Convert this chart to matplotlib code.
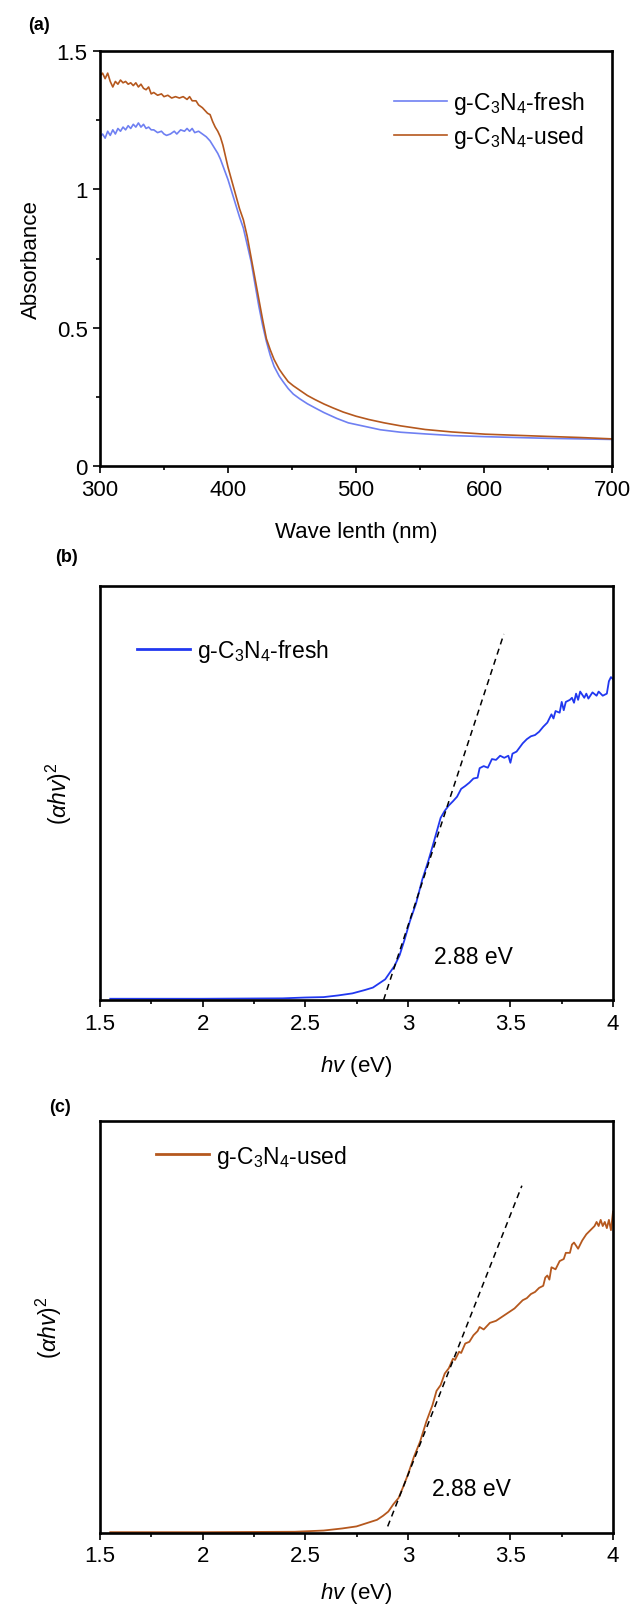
#!/usr/bin/env python3
"""UV-vis absorbance and Tauc plots of fresh and used g-C3N4."""

import matplotlib
matplotlib.use('Agg')
import matplotlib.pyplot as plt
from matplotlib.ticker import MultipleLocator, FormatStrFormatter, NullLocator

plt.rcParams['font.family'] = ['Liberation Sans', 'DejaVu Sans']
plt.rcParams['mathtext.fontset'] = 'custom'
plt.rcParams['mathtext.rm'] = 'Liberation Sans'
plt.rcParams['mathtext.it'] = 'Liberation Sans:italic'

# ---- panel (a): absorbance vs wavelength ----
wl_used = [300, 302, 304, 306, 308, 310, 312, 314, 316, 318, 320, 322, 324, 326, 328, 330,
           332, 334, 336, 338, 340, 342, 345, 348, 350, 353, 356, 359, 362, 365, 368, 370,
           372, 375, 377, 380, 382, 384, 386, 388, 390, 392, 394, 396, 398, 400, 403, 406,
           409, 412, 415, 418, 421, 424, 427, 430, 433, 436, 440, 443, 447, 451, 456, 462,
           468, 475, 482, 490, 500, 510, 522, 535, 554, 575, 601, 625, 649, 675, 690, 700]
abs_used = [1.41, 1.42, 1.40, 1.42, 1.39, 1.37, 1.39, 1.38, 1.395, 1.385, 1.39, 1.38, 1.385,
            1.375, 1.385, 1.37, 1.38, 1.365, 1.36, 1.37, 1.345, 1.35, 1.34, 1.345, 1.335, 1.34,
            1.33, 1.335, 1.33, 1.335, 1.325, 1.335, 1.32, 1.32, 1.305, 1.295, 1.285, 1.275,
            1.27, 1.245, 1.225, 1.21, 1.19, 1.16, 1.12, 1.08, 1.03, 0.98, 0.93, 0.89, 0.83,
            0.755, 0.68, 0.605, 0.53, 0.46, 0.42, 0.385, 0.35, 0.33, 0.305, 0.29, 0.274, 0.255,
            0.24, 0.224, 0.21, 0.195, 0.18, 0.168, 0.156, 0.145, 0.132, 0.123, 0.115, 0.111,
            0.107, 0.103, 0.100, 0.098]

wl_fresh = [300, 302, 304, 306, 308, 310, 312, 314, 316, 318, 320, 322, 324, 326, 328, 330,
            332, 334, 336, 338, 340, 342, 345, 348, 350, 352, 355, 358, 360, 363, 366, 368,
            370, 372, 374, 377, 380, 383, 386, 388, 390, 392, 394, 396, 398, 400, 403, 406,
            409, 412, 415, 418, 421, 424, 427, 430, 433, 436, 440, 443, 447, 451, 456, 462,
            468, 475, 485, 494, 505, 519, 535, 554, 575, 601, 625, 650, 675, 700]
abs_fresh = [1.19, 1.20, 1.185, 1.21, 1.195, 1.215, 1.20, 1.22, 1.21, 1.225, 1.215, 1.23,
             1.22, 1.235, 1.225, 1.24, 1.225, 1.235, 1.22, 1.225, 1.215, 1.215, 1.205, 1.21,
             1.20, 1.195, 1.20, 1.21, 1.20, 1.215, 1.21, 1.22, 1.21, 1.22, 1.205, 1.21, 1.20,
             1.19, 1.175, 1.16, 1.145, 1.13, 1.11, 1.085, 1.06, 1.035, 0.99, 0.945, 0.90, 0.86,
             0.80, 0.74, 0.66, 0.58, 0.51, 0.45, 0.40, 0.36, 0.325, 0.305, 0.28, 0.26, 0.243,
             0.225, 0.21, 0.193, 0.172, 0.156, 0.145, 0.131, 0.122, 0.116, 0.110, 0.106, 0.103,
             0.100, 0.098, 0.096]

# ---- panel (b): Tauc plot, fresh ----
ev_fresh = [1.55, 2.0, 2.39, 2.5, 2.59, 2.66, 2.73, 2.79, 2.83, 2.86, 2.89, 2.915, 2.935, 2.96,
            2.985, 3.01, 3.04, 3.07, 3.1, 3.12, 3.14, 3.16, 3.18, 3.20, 3.22, 3.24, 3.26, 3.28,
            3.30, 3.32, 3.34, 3.35, 3.37, 3.39, 3.41, 3.43, 3.45, 3.47, 3.49, 3.50, 3.51, 3.53,
            3.56, 3.58, 3.60, 3.62, 3.64, 3.66, 3.68, 3.70, 3.71, 3.72, 3.74, 3.75, 3.76, 3.77,
            3.79, 3.80, 3.81, 3.82, 3.83, 3.84, 3.86, 3.87, 3.88, 3.90, 3.92, 3.93, 3.95, 3.97,
            3.98, 3.99, 4.0]
tauc_fresh = [0.003, 0.003, 0.004, 0.006, 0.007, 0.011, 0.016, 0.024, 0.030, 0.040, 0.050,
              0.068, 0.082, 0.108, 0.147, 0.19, 0.233, 0.29, 0.336, 0.37, 0.405, 0.44, 0.457,
              0.47, 0.48, 0.491, 0.51, 0.517, 0.525, 0.535, 0.537, 0.56, 0.565, 0.561, 0.582,
              0.58, 0.59, 0.585, 0.59, 0.573, 0.595, 0.60, 0.62, 0.63, 0.637, 0.64, 0.648, 0.66,
              0.67, 0.69, 0.68, 0.698, 0.694, 0.72, 0.70, 0.72, 0.725, 0.73, 0.718, 0.74, 0.725,
              0.745, 0.73, 0.74, 0.728, 0.743, 0.735, 0.745, 0.735, 0.74, 0.77, 0.78, 0.775]
fit_fresh_x = [2.882, 3.468]
fit_fresh_y = [0.0, 0.884]

# ---- panel (c): Tauc plot, used ----
ev_used = [1.55, 2.0, 2.45, 2.59, 2.68, 2.75, 2.80, 2.85, 2.88, 2.905, 2.93, 2.955, 2.98, 3.0,
           3.03, 3.06, 3.09, 3.12, 3.14, 3.16, 3.18, 3.20, 3.22, 3.23, 3.25, 3.26, 3.28, 3.30,
           3.32, 3.34, 3.35, 3.37, 3.40, 3.43, 3.46, 3.49, 3.52, 3.54, 3.56, 3.58, 3.60, 3.62,
           3.64, 3.66, 3.67, 3.68, 3.69, 3.70, 3.72, 3.74, 3.76, 3.77, 3.79, 3.80, 3.81, 3.83,
           3.85, 3.87, 3.89, 3.91, 3.92, 3.93, 3.94, 3.95, 3.96, 3.97, 3.98, 3.99, 4.0]
tauc_used = [0.002, 0.002, 0.003, 0.006, 0.011, 0.016, 0.024, 0.032, 0.042, 0.052, 0.07, 0.085,
             0.115, 0.141, 0.185, 0.222, 0.27, 0.31, 0.345, 0.359, 0.387, 0.40, 0.423, 0.42,
             0.44, 0.437, 0.46, 0.464, 0.48, 0.49, 0.50, 0.494, 0.51, 0.515, 0.525, 0.535,
             0.545, 0.555, 0.565, 0.57, 0.58, 0.585, 0.595, 0.60, 0.62, 0.625, 0.615, 0.645,
             0.64, 0.66, 0.665, 0.68, 0.68, 0.70, 0.705, 0.69, 0.71, 0.725, 0.735, 0.745, 0.755,
             0.745, 0.76, 0.745, 0.755, 0.74, 0.76, 0.735, 0.78]
fit_used_x = [2.902, 3.556]
fit_used_y = [0.016, 0.843]

gap_label = '2.88 eV'
fresh_label = 'g-C$_3$N$_4$-fresh'
used_label = 'g-C$_3$N$_4$-used'

FRESH_LIGHT = '#6f80f2'
FRESH_DARK = '#2138f0'
USED = '#b5581e'

FS = 16

W, H = 635, 1606
fig = plt.figure(figsize=(W / 100, H / 100), dpi=100)


def rect(left, top, right, bottom):
    return [left / W, 1 - bottom / H, (right - left) / W, (bottom - top) / H]


def style(ax):
    for sp in ax.spines.values():
        sp.set_linewidth(1.9)
    ax.tick_params(which='major', direction='out', length=5, width=1.2, labelsize=FS, pad=4,
                   top=False, right=False)
    ax.tick_params(which='minor', direction='out', length=2.6, width=1.2, top=False, right=False)


# (a)
ax = fig.add_axes(rect(100, 52, 612, 467))
ax.plot(wl_fresh, abs_fresh, color=FRESH_LIGHT, lw=1.2, label=fresh_label)
ax.plot(wl_used, abs_used, color=USED, lw=1.2, label=used_label)
ax.set_xlim(300, 700)
ax.set_ylim(0, 1.5)
ax.xaxis.set_major_locator(MultipleLocator(100))
ax.xaxis.set_minor_locator(MultipleLocator(50))
ax.yaxis.set_major_locator(MultipleLocator(0.5))
ax.yaxis.set_minor_locator(MultipleLocator(0.25))
ax.yaxis.set_major_formatter(FormatStrFormatter('%g'))
style(ax)
ax.set_xlabel('Wave lenth (nm)', fontsize=FS)
ax.set_ylabel('Absorbance', fontsize=FS)
ax.xaxis.set_label_coords(0.5, -0.133)
ax.yaxis.set_label_coords(-0.113, 0.5)
ax.legend(loc='center left', bbox_to_anchor=(0.574, 0.834), frameon=False, fontsize=16.5,
          handlelength=2.3, handletextpad=0.3, borderpad=0, borderaxespad=0, labelspacing=0.3)


def tauc(ax, x, y, fx, fy, color, label, leg_anchor, text_xy, xlabel_y, ylabel_x):
    ax.plot(x, y, color=color, lw=1.3, label=label)
    ax.plot(fx, fy, color='black', lw=1.1, dashes=(4, 3))
    ax.set_xlim(1.5, 4)
    ax.set_ylim(0, 1)
    ax.xaxis.set_major_locator(MultipleLocator(0.5))
    ax.xaxis.set_minor_locator(MultipleLocator(0.25))
    ax.xaxis.set_major_formatter(FormatStrFormatter('%g'))
    ax.yaxis.set_major_locator(NullLocator())
    ax.yaxis.set_minor_locator(NullLocator())
    style(ax)
    ax.text(text_xy[0], text_xy[1], gap_label, fontsize=16.5, va='center', ha='left')
    ax.set_xlabel(r'$\mathit{hv}$ (eV)', fontsize=FS)
    ax.set_ylabel(r'($\mathit{αhv}$)$^2$', fontsize=16.5)
    ax.xaxis.set_label_coords(0.5, xlabel_y)
    ax.yaxis.set_label_coords(ylabel_x, 0.5)
    leg = ax.legend(loc='center left', bbox_to_anchor=leg_anchor, frameon=False, fontsize=16.5,
                    handlelength=2.3, handletextpad=0.3, borderpad=0, borderaxespad=0)
    for ln in leg.get_lines():
        ln.set_linewidth(2.0)


ax = fig.add_axes(rect(100, 587, 613, 1001))
tauc(ax, ev_fresh, tauc_fresh, fit_fresh_x, fit_fresh_y, FRESH_DARK, fresh_label,
     (0.072, 0.843), (3.13, 0.105), -0.128, -0.05)

ax = fig.add_axes(rect(100, 1122, 613, 1534))
tauc(ax, ev_used, tauc_used, fit_used_x, fit_used_y, USED, used_label,
     (0.11, 0.915), (3.12, 0.109), -0.114, -0.07)

fig.text(39 / W, 1 - 25 / H, '(a)', fontsize=13, fontweight='bold', ha='center', va='center')
fig.text(66 / W, 1 - 558 / H, '(b)', fontsize=13, fontweight='bold', ha='center', va='center')
fig.text(60 / W, 1 - 1108 / H, '(c)', fontsize=13, fontweight='bold', ha='center', va='center')

fig.savefig('out.png', dpi=100)
